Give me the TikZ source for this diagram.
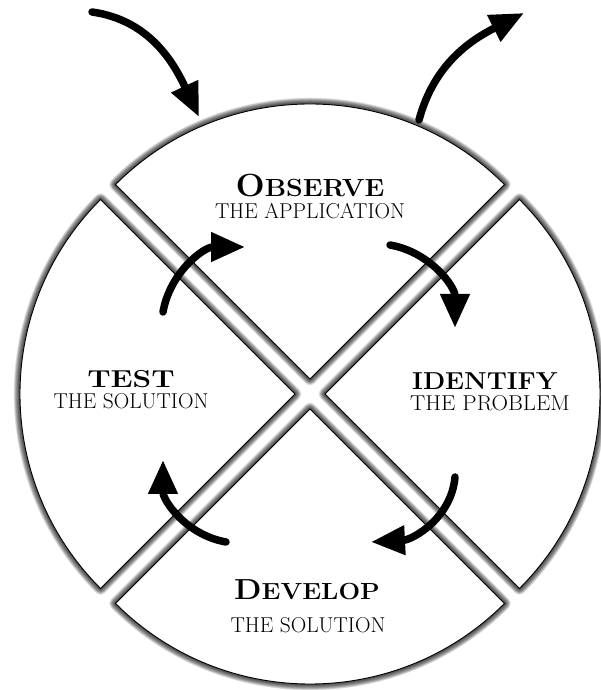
\documentclass[tikz,border=0pt]{standalone}
\usepackage{fontspec}
\usepackage{graphicx}
\usetikzlibrary{arrows.meta}
\tikzset{
  sect/.style={fill=white, draw=black, line width=0.9pt, line join=miter},
  shadowstroke/.style={draw=black, opacity=0.11, line join=round},
  flow/.style={line width=7.5pt, line cap=round, -{Triangle[length=34pt,width=28pt]}},
  ttl/.style={font=\bfseries, inner sep=0pt},
  subttl/.style={font=\fontsize{21.5}{21.5}\selectfont, inner sep=0pt},
}
\newcommand\sectpath[3]{(#1) -- ++(#2:275pt) arc[start angle=#2, end angle=#3, radius=275pt] -- cycle}
\begin{document}
\begin{tikzpicture}[x=1pt,y=1pt]
\useasboundingbox[fill=white] (0,0) rectangle (600,690);
\coordinate (topA) at (310,311);
\coordinate (leftA) at (295,296);
\coordinate (rightA) at (325,296);
\coordinate (botA) at (310,281);
% shadows
\begin{scope}[shift={(-1,-5)}]
\foreach \ii in {1,...,10}{
  \foreach \pa/\ps/\pe in {topA/135/45, leftA/135/225, rightA/45/-45, botA/225/315}{
    \path[shadowstroke, line width=\ii*1.25pt] \sectpath{\pa}{\ps}{\pe};
  }
}
\end{scope}
% sectors
\path[sect] \sectpath{topA}{135}{45};
\path[sect] \sectpath{leftA}{135}{225};
\path[sect] \sectpath{rightA}{45}{-45};
\path[sect] \sectpath{botA}{225}{315};
% labels
\node[ttl] (obs) at (310,504) {\scalebox{1.08}[1]{\fontsize{32}{32}\selectfont O\fontsize{24.8}{24.8}\selectfont BSERVE}};
\node[subttl] (obsS) at (310,478.5) {THE APPLICATION};
\node[ttl] (tst) at (131,311) {\scalebox{1.22}[1]{\fontsize{24.5}{24.5}\selectfont TEST}};
\node[subttl] (tstS) at (131,289) {THE SOLUTION};
\node[ttl] (idf) at (485,308.5) {\scalebox{1.05}[1]{\fontsize{24.5}{24.5}\selectfont IDENTIFY}};
\node[subttl] (idfS) at (490,286.5) {\scalebox{1.06}[1]{THE PROBLEM}};
\node[ttl] (dev) at (307,100) {\scalebox{1.1}[1]{\fontsize{29}{29}\selectfont D\fontsize{23.3}{23.3}\selectfont EVELOP}};
\node[subttl] (devS) at (308,65) {THE SOLUTION};
% arrows
\coordinate (a1s) at (92,678); \coordinate (a1e) at (199,573);
\coordinate (a2s) at (419,570); \coordinate (a2e) at (524,677);
\coordinate (a3s) at (163,378); \coordinate (a3e) at (245,443);
\coordinate (a4s) at (390,445); \coordinate (a4e) at (455,362);
\coordinate (a5s) at (455,213); \coordinate (a5e) at (371,148);
\coordinate (a6s) at (226,148); \coordinate (a6e) at (163,230);
\draw[flow] (a1s) to[out=-8,in=115] (a1e);
\draw[flow] (a2s) to[out=75,in=207] (a2e);
\draw[flow] (a3s) to[out=80,in=180] (a3e);
\draw[flow] (a4s) to[out=-10,in=90] (a4e);
\draw[flow] (a5s) to[out=-95,in=3] (a5e);
\draw[flow] (a6s) to[out=170,in=-90] (a6e);
\end{tikzpicture}
\end{document}
